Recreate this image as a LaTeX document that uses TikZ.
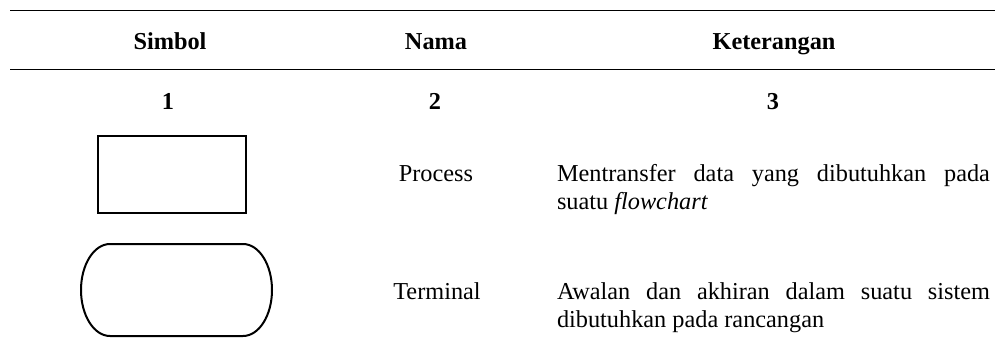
\documentclass[tikz,border=0pt]{standalone}
\usepackage{fontspec}
\setmainfont{Liberation Serif}
\begin{document}
\begin{tikzpicture}[x=1pt,y=-1pt,
  every node/.style={inner sep=0pt,outer sep=0pt,font=\fontsize{24.3}{28}\selectfont},
  head/.style={anchor=base,font=\fontsize{24.3}{28}\selectfont\bfseries},
  label/.style={anchor=base},
  desc/.style={anchor=base west,text width=433pt,align=justify},
  rule/.style={line width=1pt},
  shapeline/.style={line width=2pt,line join=miter}]
  \useasboundingbox (0,0) rectangle (995,358);

  % table rules
  \coordinate (r1l) at (10,10.5);  \coordinate (r1r) at (995,10.5);
  \coordinate (r2l) at (10,70);    \coordinate (r2r) at (995,70);
  \draw[rule] (r1l) -- (r1r);
  \draw[rule] (r2l) -- (r2r);

  % header
  \node[head] (hsym)  at (170,50) {Simbol};
  \node[head] (hname) at (436,50) {Nama};
  \node[head] (hdesc) at (774,50) {Keterangan};

  % column numbers
  \node[head] (n1) at (168,110) {1};
  \node[head] (n2) at (435,110) {2};
  \node[head] (n3) at (773,110) {3};

  % process symbol
  \node[shapeline,draw,minimum width=148pt,minimum height=77pt] (proc) at (172,174.5) {};
  \node[label] (procname) at (436,182) {Process};
  \node[desc] (procdesc) at (557,182)
    {Mentransfer data yang dibutuhkan pada\linebreak suatu \textit{flowchart}};

  % terminal symbol
  \coordinate (term) at (176.5,290);
  \draw[shapeline] (110,244) -- (243,244) arc[start angle=90,end angle=-90,x radius=29,y radius=-46]
    -- (110,336) arc[start angle=-90,end angle=-270,x radius=29,y radius=-46] -- cycle;
  \node[label] (termname) at (437,299) {Terminal};
  \node[desc] (termdesc) at (557,299)
    {Awalan dan akhiran dalam suatu sistem\linebreak dibutuhkan pada rancangan};
\end{tikzpicture}
\end{document}
